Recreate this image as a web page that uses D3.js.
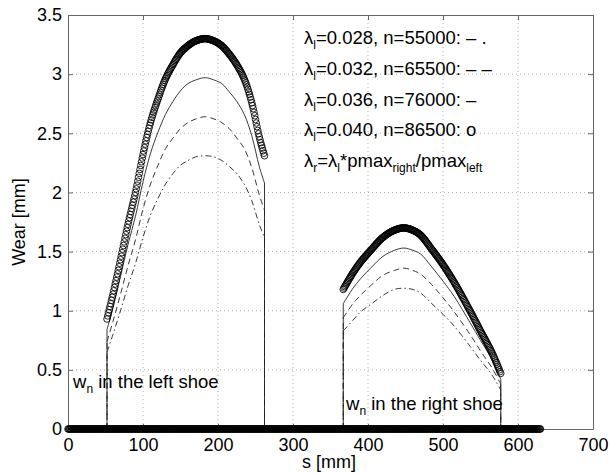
<!DOCTYPE html>
<html><head><meta charset="utf-8">
<script src="https://cdn.jsdelivr.net/npm/d3@7"></script>
<style>
body{margin:0;background:#fff;}
text{font-family:"Liberation Sans",Arial,Helvetica,sans-serif;fill:#000;}
</style>
</head><body>
<svg id="chart" width="611" height="473"></svg>
<script>
// ---------- data ----------
const xTicks = [0, 100, 200, 300, 400, 500, 600, 700];
const yTicks = [0, 0.5, 1, 1.5, 2, 2.5, 3, 3.5];

// left shoe (s in mm)
const leftS      = [52, 60, 70, 80, 90, 100, 110, 120, 130, 140, 150, 160, 170, 183, 195, 205, 215, 225, 235, 245, 255, 262];
const leftL040   = [0.93, 1.14, 1.43, 1.73, 2.00, 2.32, 2.59, 2.79, 2.96, 3.08, 3.18, 3.24, 3.28, 3.30, 3.28, 3.24, 3.17, 3.08, 2.96, 2.76, 2.47, 2.31];
const leftL036   = [0.84, 1.03, 1.29, 1.56, 1.80, 2.09, 2.33, 2.51, 2.66, 2.77, 2.86, 2.92, 2.95, 2.97, 2.95, 2.92, 2.85, 2.77, 2.66, 2.48, 2.22, 2.08];
const leftL032   = [0.74, 0.91, 1.14, 1.38, 1.60, 1.86, 2.07, 2.23, 2.37, 2.46, 2.54, 2.59, 2.62, 2.64, 2.62, 2.59, 2.54, 2.46, 2.37, 2.21, 1.98, 1.85];
const leftL028   = [0.65, 0.80, 1.00, 1.21, 1.40, 1.62, 1.81, 1.95, 2.07, 2.16, 2.23, 2.27, 2.30, 2.31, 2.30, 2.27, 2.22, 2.16, 2.07, 1.93, 1.73, 1.62];

// right shoe
const rightS     = [367, 380, 390, 405, 420, 435, 448, 460, 470, 485, 500, 515, 536, 550, 565, 577];
const rightL040  = [1.18, 1.32, 1.41, 1.52, 1.62, 1.68, 1.70, 1.68, 1.64, 1.52, 1.39, 1.24, 1.00, 0.83, 0.65, 0.47];
const rightL036  = [1.06, 1.19, 1.27, 1.37, 1.46, 1.51, 1.53, 1.51, 1.48, 1.37, 1.25, 1.12, 0.90, 0.75, 0.59, 0.42];
const rightL032  = [0.94, 1.06, 1.13, 1.22, 1.30, 1.34, 1.36, 1.34, 1.31, 1.22, 1.11, 0.99, 0.80, 0.66, 0.52, 0.38];
const rightL028  = [0.83, 0.92, 0.99, 1.06, 1.13, 1.18, 1.19, 1.18, 1.15, 1.06, 0.97, 0.87, 0.70, 0.58, 0.46, 0.33];

// zero wear along the whole drum (s in mm)
const zeroS = [0, 630];
const zeroW = [0, 0];

const seriesStyles = [
  {name: "0.028", left: leftL028, right: rightL028, dash: "6,3,1.5,3", marker: false},
  {name: "0.032", left: leftL032, right: rightL032, dash: "6,4", marker: false},
  {name: "0.036", left: leftL036, right: rightL036, dash: null, marker: false},
  {name: "0.040", left: leftL040, right: rightL040, dash: null, marker: true}
];

const legendLines = [
  [["λ",0],["l",1],["=0.028, n=55000: – .",0]],
  [["λ",0],["l",1],["=0.032, n=65500: – –",0]],
  [["λ",0],["l",1],["=0.036, n=76000: –",0]],
  [["λ",0],["l",1],["=0.040, n=86500: o",0]],
  [["λ",0],["r",1],["=λ",0],["l",1],["*pmax",0],["right",1],["/pmax",0],["left",1]]
];

// ---------- layout ----------
const svg = d3.select("#chart");
const M = {left: 68, right: 593, top: 15, bottom: 429};
const x = d3.scaleLinear().domain([0, 700]).range([M.left, M.right]);
const y = d3.scaleLinear().domain([0, 3.5]).range([M.bottom, M.top]);
const FS = 18;

// grid
const grid = svg.append("g");
grid.selectAll(".gx").data(xTicks.filter(d => d > 0 && d < 700)).enter().append("line")
  .attr("x1", d => x(d)).attr("x2", d => x(d)).attr("y1", M.top).attr("y2", M.bottom)
  .attr("stroke", "#b0b0b0").attr("stroke-width", 1).attr("stroke-dasharray", "1,3");
grid.selectAll(".gy").data(yTicks.filter(d => d > 0 && d < 3.5)).enter().append("line")
  .attr("y1", d => y(d)).attr("y2", d => y(d)).attr("x1", M.left).attr("x2", M.right)
  .attr("stroke", "#b0b0b0").attr("stroke-width", 1).attr("stroke-dasharray", "1,3");

// box + ticks via d3 axes
const axCol = "#666";
function styleAxis(g){
  g.select(".domain").attr("stroke", axCol);
  g.selectAll(".tick line").attr("stroke", axCol);
  g.selectAll(".tick text").style("font-size", FS + "px").attr("fill", "#000")
    .style("font-family", '"Liberation Sans",Arial,Helvetica,sans-serif');
}
const xb = svg.append("g").attr("transform", `translate(0,${M.bottom})`)
  .call(d3.axisBottom(x).tickValues(xTicks).tickSize(-5).tickPadding(9).tickSizeOuter(0));
styleAxis(xb);
const xt = svg.append("g").attr("transform", `translate(0,${M.top})`)
  .call(d3.axisTop(x).tickValues(xTicks).tickSize(-5).tickFormat("").tickSizeOuter(0));
styleAxis(xt);
const yl = svg.append("g").attr("transform", `translate(${M.left},0)`)
  .call(d3.axisLeft(y).tickValues(yTicks).tickSize(-5).tickPadding(6).tickSizeOuter(0).tickFormat(d3.format("")));
styleAxis(yl);
const yr = svg.append("g").attr("transform", `translate(${M.right},0)`)
  .call(d3.axisRight(y).tickValues(yTicks).tickSize(-5).tickFormat("").tickSizeOuter(0));
styleAxis(yr);
xb.selectAll(".tick text").attr("dy", "0.71em");

// ---------- series ----------
const curveLine = d3.line().x(d => x(d[0])).y(d => y(d[1])).curve(d3.curveCatmullRom.alpha(0.5));
const straight = d3.line().x(d => x(d[0])).y(d => y(d[1]));
const gLines = svg.append("g");
const markerPaths = [];

seriesStyles.forEach(ser => {
  const shoes = [
    leftS.map((s, i) => [s, ser.left[i]]),
    rightS.map((s, i) => [s, ser.right[i]])
  ];
  const g = gLines.append("g");
  const stroke = ser.marker ? "none" : "#222";
  const zp = g.append("path").attr("d", straight(zeroS.map((s, i) => [s, zeroW[i]])))
    .attr("fill", "none").attr("stroke", stroke).attr("stroke-width", 0.9)
    .attr("stroke-dasharray", ser.dash);
  if (ser.marker) markerPaths.push(zp.node());
  shoes.forEach(pts => {
    const first = pts[0], last = pts[pts.length - 1];
    if (!ser.marker) {
      g.append("path").attr("d", straight([[first[0], 0], first]))
        .attr("fill", "none").attr("stroke", stroke).attr("stroke-width", 0.9).attr("stroke-dasharray", ser.dash);
      g.append("path").attr("d", straight([last, [last[0], 0]]))
        .attr("fill", "none").attr("stroke", stroke).attr("stroke-width", 0.9).attr("stroke-dasharray", ser.dash);
    }
    const p = g.append("path").attr("d", curveLine(pts))
      .attr("fill", "none").attr("stroke", stroke).attr("stroke-width", 0.9)
      .attr("stroke-dasharray", ser.dash);
    if (ser.marker) markerPaths.push(p.node());
  });
});

// "o" markers, one per mm of s along the plotted curve
const gMarks = svg.append("g");
markerPaths.forEach(node => {
  const L = node.getTotalLength();
  const samples = [];
  for (let l = 0; l <= L; l += 0.2) samples.push(node.getPointAtLength(l));
  samples.push(node.getPointAtLength(L));
  const s0 = Math.round(x.invert(samples[0].x));
  const s1 = Math.round(x.invert(samples[samples.length - 1].x));
  let k = 0;
  const pts = [];
  for (let s = s0; s <= s1; s += 1) {
    const tx = x(s);
    while (k < samples.length - 1 && samples[k].x < tx) k++;
    pts.push([tx, samples[k].y]);
  }
  gMarks.selectAll(null).data(pts).enter().append("circle")
    .attr("cx", d => d[0]).attr("cy", d => d[1]).attr("r", 3.3)
    .attr("fill", "none").attr("stroke", "#000").attr("stroke-width", 0.85);
});

// ---------- texts ----------
function richText(parent, parts, tx, ty, size) {
  const t = parent.append("text").attr("x", tx).attr("y", ty).style("font-size", size + "px");
  let prevSub = 0;
  parts.forEach(([str, sub]) => {
    const sp = t.append("tspan").text(str).attr("fill", "#000");
    if (sub) sp.style("font-size", (size * 0.65) + "px");
    const shift = (sub ? 5 : 0) - (prevSub ? 5 : 0);
    if (shift) sp.attr("dy", shift);
    prevSub = sub;
  });
  return t;
}
const gT = svg.append("g");
const legendY = [44, 75, 106, 136, 167];
legendLines.forEach((parts, i) => richText(gT, parts, 304, legendY[i], 18.5));

richText(gT, [["w",0],["n",1],[" in the left shoe",0]], 73, 388, 18.5);
richText(gT, [["w",0],["n",1],[" in the right shoe",0]], 346, 410, 18.5);

svg.append("text").attr("x", 329).attr("y", 468).attr("text-anchor", "middle")
  .style("font-size", FS + "px").text("s [mm]");
svg.append("text").attr("transform", "translate(25,222) rotate(-90)").attr("text-anchor", "middle")
  .style("font-size", FS + "px").text("Wear [mm]");
</script>
</body></html>
